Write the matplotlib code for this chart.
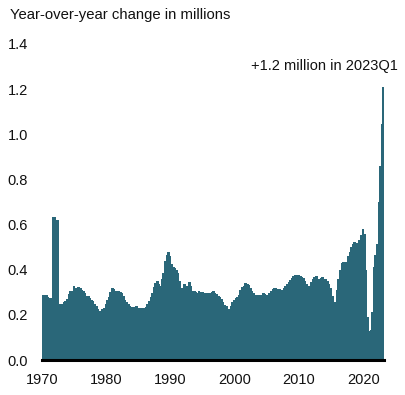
import matplotlib
matplotlib.use("Agg")
import matplotlib.pyplot as plt
import numpy as np

plt.rcParams['font.family'] = ['Liberation Sans', 'DejaVu Sans']

start_year = 1970
# Year-over-year change (millions), quarterly, 1970Q1 .. 2023Q1
yoy_1970s = [0.290, 0.290, 0.290, 0.280, 0.276, 0.276, 0.634, 0.634,
             0.620, 0.620, 0.250, 0.245, 0.250, 0.255, 0.263, 0.272,
             0.293, 0.305, 0.305, 0.328, 0.320, 0.315, 0.325, 0.320,
             0.310, 0.307, 0.297, 0.285, 0.283, 0.276, 0.268, 0.260,
             0.250, 0.238, 0.228, 0.215, 0.215, 0.225, 0.232, 0.248]
yoy_1980s = [0.266, 0.280, 0.300, 0.319, 0.313, 0.307, 0.295, 0.307,
             0.303, 0.298, 0.285, 0.266, 0.257, 0.250, 0.240, 0.235,
             0.235, 0.235, 0.240, 0.232, 0.230, 0.230, 0.230, 0.230,
             0.235, 0.248, 0.262, 0.280, 0.295, 0.323, 0.343, 0.350,
             0.338, 0.330, 0.360, 0.385, 0.440, 0.465, 0.478, 0.462]
yoy_1990s = [0.425, 0.413, 0.406, 0.399, 0.384, 0.350, 0.320, 0.316,
             0.337, 0.330, 0.325, 0.344, 0.330, 0.304, 0.304, 0.300,
             0.298, 0.307, 0.303, 0.300, 0.298, 0.295, 0.295, 0.297,
             0.298, 0.300, 0.305, 0.295, 0.291, 0.282, 0.280, 0.270,
             0.257, 0.244, 0.240, 0.226, 0.226, 0.240, 0.255, 0.268]
yoy_2000s = [0.275, 0.280, 0.288, 0.310, 0.322, 0.328, 0.340, 0.337,
             0.333, 0.318, 0.305, 0.298, 0.288, 0.280, 0.288, 0.290,
             0.288, 0.295, 0.292, 0.288, 0.290, 0.295, 0.305, 0.313,
             0.320, 0.320, 0.316, 0.313, 0.310, 0.312, 0.318, 0.327,
             0.337, 0.345, 0.355, 0.365, 0.372, 0.377, 0.377, 0.375]
yoy_2010s = [0.372, 0.368, 0.365, 0.352, 0.337, 0.328, 0.320, 0.346,
             0.358, 0.368, 0.372, 0.360, 0.360, 0.365, 0.368, 0.360,
             0.358, 0.350, 0.335, 0.319, 0.284, 0.258, 0.258, 0.310,
             0.360, 0.400, 0.430, 0.435, 0.430, 0.436, 0.460, 0.480,
             0.500, 0.512, 0.522, 0.520, 0.520, 0.532, 0.555, 0.580]
yoy_2020s = [0.557, 0.400, 0.190, 0.128, 0.133, 0.214, 0.410, 0.465,
             0.514, 0.700, 0.860, 1.046, 1.211]

values = np.array(yoy_1970s + yoy_1980s + yoy_1990s + yoy_2000s + yoy_2010s + yoy_2020s)
x = start_year + np.arange(len(values)) / 4.0

title = "Year-over-year change in millions"
annotation = "+1.2 million in 2023Q1"
yticks = [0.0, 0.2, 0.4, 0.6, 0.8, 1.0, 1.2, 1.4]
xticks = [1970, 1980, 1990, 2000, 2010, 2020]

color = "#2a6779"

fig = plt.figure(figsize=(4.05, 3.95), dpi=100)
ax = fig.add_axes([42 / 405, 35 / 395, 342 / 405, 316 / 395])
ax.bar(x, values, width=0.25, align='edge', color=color, edgecolor=color,
       linewidth=0.5, antialiased=False)

ax.set_xlim(start_year, start_year + len(values) / 4.0)
ax.set_ylim(0, 1.4)
ax.set_yticks(yticks)
ax.set_yticklabels([f"{v:.1f}" for v in yticks])
ax.set_xticks(xticks)
ax.set_xticklabels([str(v) for v in xticks])

for s in ['top', 'right', 'left']:
    ax.spines[s].set_visible(False)
ax.spines['bottom'].set_linewidth(2.2)
ax.spines['bottom'].set_color('black')
ax.tick_params(axis='both', length=0, labelsize=10.5, colors='#111111')
ax.tick_params(axis='y', pad=10)
ax.tick_params(axis='x', pad=9)

fig.text(10 / 405, 1 - 15 / 395, title, ha='left', va='center', fontsize=10.7, color='#111111')
fig.text(398 / 405, 1 - 66 / 395, annotation, ha='right', va='center', fontsize=10.5, color='#111111')

fig.savefig("out.png", dpi=100)
